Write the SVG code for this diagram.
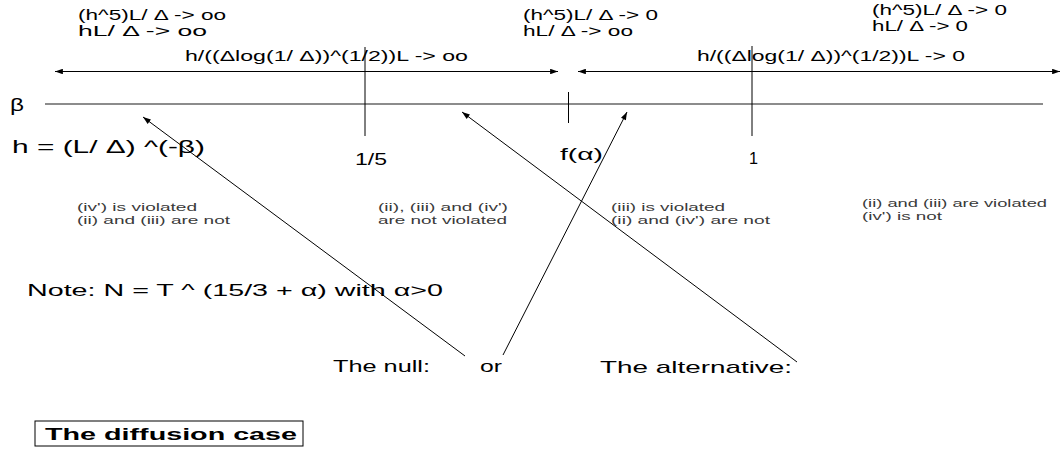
<svg xmlns="http://www.w3.org/2000/svg" width="1062" height="453" viewBox="0 0 1062 453">
<style>
  text { font-family: "Liberation Sans", Arial, sans-serif; fill: #000; }
  .top { font-size: 14px; }
  .rng { font-size: 14.5px; }
  .big { font-size: 17px; }
  .small { font-size: 11.5px; fill: #3a3a3a; }
  .bold { font-weight: bold; font-size: 16px; }
  .ln { stroke: #000; stroke-width: 1; fill: none; }
  .axis { stroke: #8c8c8c; stroke-width: 2; fill: none; }
</style>
<defs>
  <marker id="ah" viewBox="0 0 10 7" refX="10" refY="3.5" markerWidth="10" markerHeight="5.5" markerUnits="userSpaceOnUse" orient="auto-start-reverse">
    <path d="M0,0 L10,3.5 L0,7 z" fill="#000"/>
  </marker>
</defs>
<rect width="1062" height="453" fill="#fff"/>

<g id="top-left-label">
  <text class="top" x="78" y="20" textLength="148" lengthAdjust="spacingAndGlyphs">(h^5)L/ Δ -&gt; oo</text>
  <text class="top" x="78" y="36" textLength="129" lengthAdjust="spacingAndGlyphs">hL/ Δ -&gt; oo</text>
</g>
<g id="top-mid-label">
  <text class="top" x="523" y="20" textLength="135" lengthAdjust="spacingAndGlyphs">(h^5)L/ Δ -&gt; 0</text>
  <text class="top" x="523" y="36" textLength="110" lengthAdjust="spacingAndGlyphs">hL/ Δ -&gt; oo</text>
</g>
<g id="top-right-label">
  <text class="top" x="872" y="15" textLength="135" lengthAdjust="spacingAndGlyphs">(h^5)L/ Δ -&gt; 0</text>
  <text class="top" x="872" y="31" textLength="96" lengthAdjust="spacingAndGlyphs">hL/ Δ -&gt; 0</text>
</g>
<g id="range-left-label">
  <text class="rng" x="185" y="61" textLength="283" lengthAdjust="spacingAndGlyphs">h/((Δlog(1/ Δ))^(1/2))L -&gt; oo</text>
</g>
<g id="range-right-label">
  <text class="rng" x="697" y="61" textLength="268" lengthAdjust="spacingAndGlyphs">h/((Δlog(1/ Δ))^(1/2))L -&gt; 0</text>
</g>

<g id="axis">
  <text x="10" y="111" style="font-size:19px" textLength="14" lengthAdjust="spacingAndGlyphs">β</text>
  <line class="axis" x1="45" y1="104" x2="1043" y2="104"/>
  <line class="ln" x1="365" y1="47" x2="365" y2="136"/>
  <line class="ln" x1="568.5" y1="92" x2="568.5" y2="123"/>
  <line class="ln" x1="752" y1="46" x2="752" y2="136"/>
</g>

<g id="h-def">
  <text x="12" y="153" style="font-size:18px" textLength="193" lengthAdjust="spacingAndGlyphs">h = (L/ Δ) ^(-β)</text>
</g>
<g id="tick-1-5"><text class="big" x="355" y="165" textLength="32" lengthAdjust="spacingAndGlyphs">1/5</text></g>
<g id="tick-f"><text class="big" x="560" y="160" textLength="43" lengthAdjust="spacingAndGlyphs">f(α)</text></g>
<g id="tick-1"><text class="big" x="749" y="164" textLength="9" lengthAdjust="spacingAndGlyphs">1</text></g>

<g id="region-1">
  <text class="small" x="77" y="211" textLength="120" lengthAdjust="spacingAndGlyphs">(iv') is violated</text>
  <text class="small" x="77" y="224" textLength="153" lengthAdjust="spacingAndGlyphs">(ii) and (iii) are not</text>
</g>
<g id="region-2">
  <text class="small" x="378" y="211" textLength="130" lengthAdjust="spacingAndGlyphs">(ii), (iii) and (iv')</text>
  <text class="small" x="378" y="224" textLength="129" lengthAdjust="spacingAndGlyphs">are not violated</text>
</g>
<g id="region-3">
  <text class="small" x="611" y="211" textLength="114" lengthAdjust="spacingAndGlyphs">(iii) is violated</text>
  <text class="small" x="611" y="224" textLength="159" lengthAdjust="spacingAndGlyphs">(ii) and (iv') are not</text>
</g>
<g id="region-4">
  <text class="small" x="862" y="207" textLength="185" lengthAdjust="spacingAndGlyphs">(ii) and (iii) are violated</text>
  <text class="small" x="862" y="220" textLength="80" lengthAdjust="spacingAndGlyphs">(iv') is not</text>
</g>

<g id="note">
  <text class="big" x="27" y="296" textLength="416" lengthAdjust="spacingAndGlyphs">Note: N = T ^ (15/3 + α) with α&gt;0</text>
</g>
<g id="null">
  <text class="big" x="333" y="372" textLength="97" lengthAdjust="spacingAndGlyphs">The null:</text>
</g>
<g id="or">
  <text class="big" x="480" y="372" textLength="22" lengthAdjust="spacingAndGlyphs">or</text>
</g>
<g id="alternative">
  <text class="big" x="600" y="373" textLength="192" lengthAdjust="spacingAndGlyphs">The alternative:</text>
</g>
<g id="title">
  <rect x="35" y="421" width="268" height="25" fill="none" stroke="#000" stroke-width="1"/>
  <text class="bold" x="45" y="440" textLength="252" lengthAdjust="spacingAndGlyphs">The diffusion case</text>
</g>

<g id="connectors">
  <line class="ln" x1="55" y1="71.5" x2="558" y2="71.5" marker-start="url(#ah)" marker-end="url(#ah)"/>
  <line class="ln" x1="578" y1="71.5" x2="1060" y2="71.5" marker-start="url(#ah)" marker-end="url(#ah)"/>
  <line class="ln" x1="465" y1="356" x2="143" y2="117" marker-end="url(#ah)"/>
  <line class="ln" x1="503" y1="355" x2="627" y2="112" marker-end="url(#ah)"/>
  <line class="ln" x1="797" y1="362" x2="462" y2="112" marker-end="url(#ah)"/>
</g>
</svg>
